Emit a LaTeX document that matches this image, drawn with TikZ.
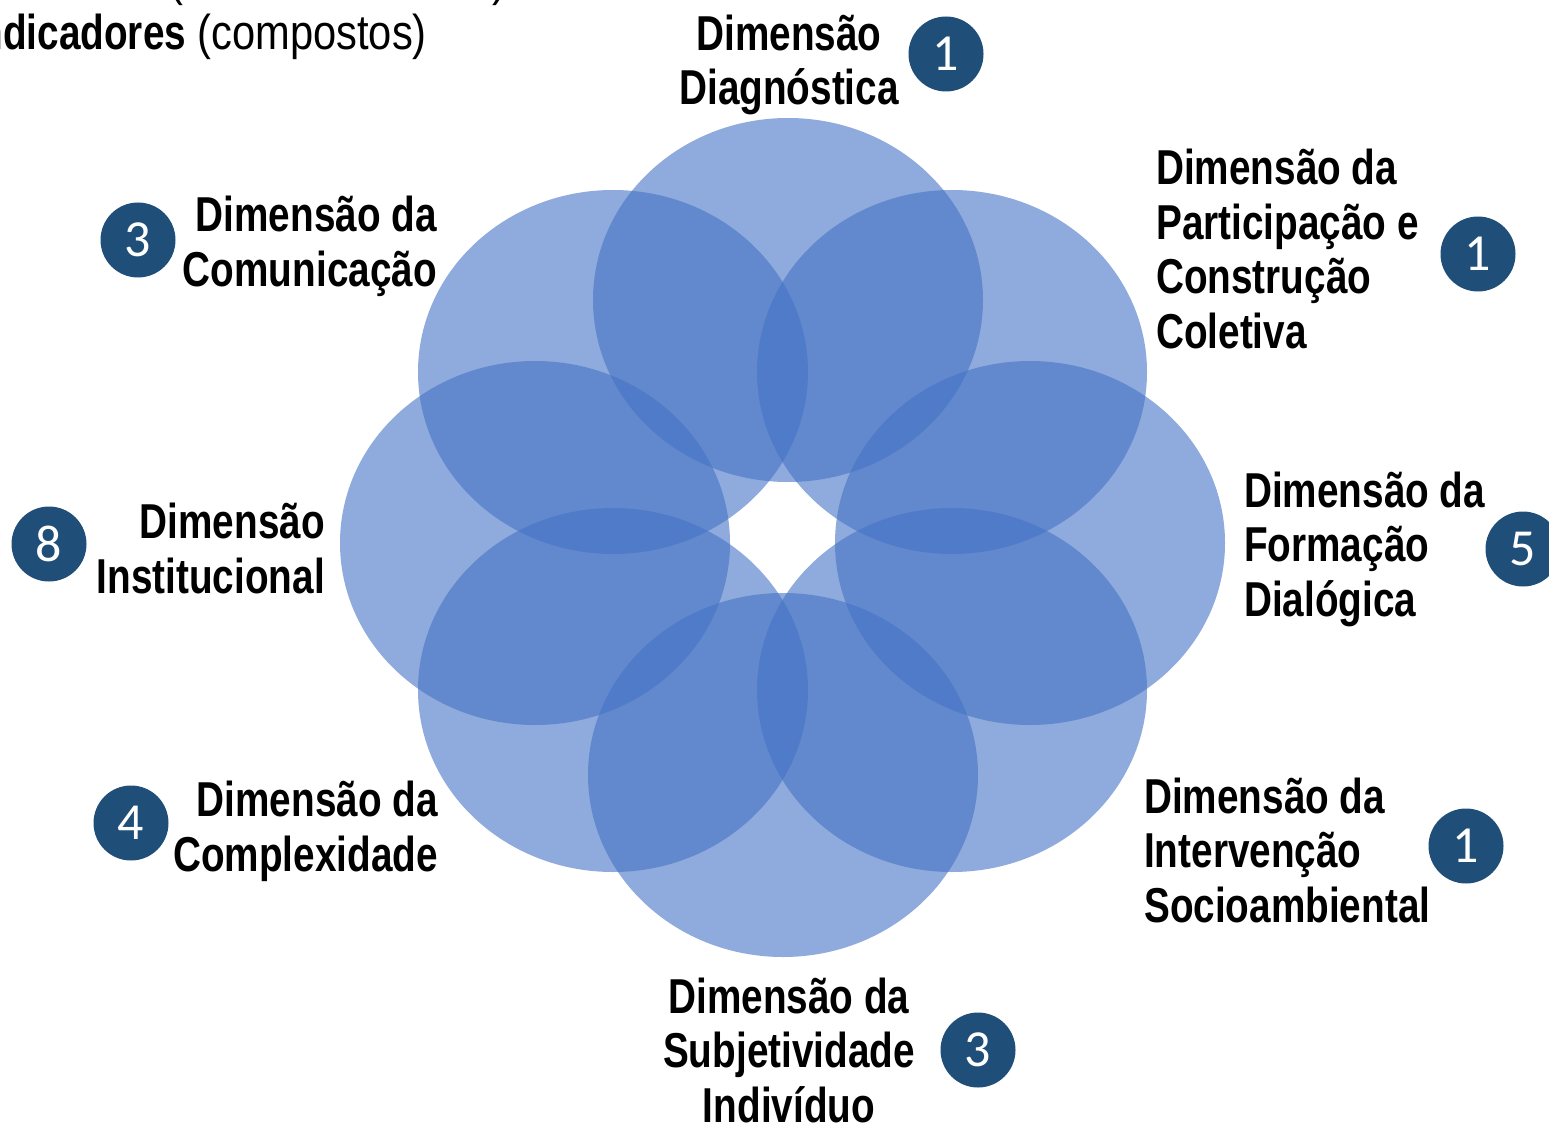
\documentclass[tikz,border=0pt]{standalone}
\usepackage{fontspec}
\setmainfont{Liberation Sans}
\newfontfamily\narrowfont[FakeStretch=0.79]{Liberation Sans}
\newfontfamily\hdrfont[FakeStretch=0.85]{Liberation Sans}
\newfontfamily\numfont{Carlito}
\definecolor{petalblue}{HTML}{4472C4}
\definecolor{badgeblue}{HTML}{1F4E79}
\begin{document}
\begin{tikzpicture}[x=1pt,y=-1pt,
  petal/.style={fill=petalblue,fill opacity=0.6},
  lbl/.style={font=\narrowfont\bfseries\fontsize{49}{54.5}\selectfont,inner sep=0pt},
  hdr/.style={font=\hdrfont\fontsize{49}{54.5}\selectfont,inner sep=0pt},
  badge/.style={circle,fill=badgeblue,text=white,minimum size=75pt,inner sep=0pt,
    font=\numfont\fontsize{52}{52}\selectfont}]
\useasboundingbox (0,0) rectangle (1549,1123);
% petals
\fill[petal] (788,300) ellipse [x radius=195pt, y radius=182pt];
\fill[petal] (952,372) ellipse [x radius=195pt, y radius=182pt];
\fill[petal] (1030,543) ellipse [x radius=195pt, y radius=182pt];
\fill[petal] (952,690) ellipse [x radius=195pt, y radius=182pt];
\fill[petal] (783,775) ellipse [x radius=195pt, y radius=182pt];
\fill[petal] (613,690) ellipse [x radius=195pt, y radius=182pt];
\fill[petal] (535,543) ellipse [x radius=195pt, y radius=182pt];
\fill[petal] (613,372) ellipse [x radius=195pt, y radius=182pt];
% header (cut off at the top edge)
\node[hdr,anchor=base] (p1) at (176,-4) {(};
\node[hdr,anchor=base] (p2) at (499,-4) {)};
\node[hdr,anchor=base east] (hdr) at (427,50) {{\narrowfont\bfseries Indicadores} (compostos)};
% labels (anchor = baseline of last line)
\node[lbl,align=center,anchor=base] (l1) at (789,105) {Dimensão\\Diagnóstica};
\node[lbl,align=left,anchor=base west] (l2) at (1156,348) {Dimensão da\\Participação e\\Construção\\Coletiva};
\node[lbl,align=left,anchor=base west] (l3) at (1244,616) {Dimensão da\\Formação\\Dialógica};
\node[lbl,align=left,anchor=base west] (l4) at (1144,922) {Dimensão da\\Intervenção\\Socioambiental};
\node[lbl,align=center,anchor=base] (l5) at (789,1122) {Dimensão da\\Subjetividade\\Indivíduo};
\node[lbl,align=right,anchor=base east] (l6) at (438,871) {Dimensão da\\Complexidade};
\node[lbl,align=right,anchor=base east] (l7) at (325,593) {Dimensão\\Institucional};
\node[lbl,align=right,anchor=base east] (l8) at (437,286) {Dimensão da\\Comunicação};
% badges
\node[badge] (b1) at (946,54) {1};
\node[badge] (b2) at (1478,254) {1};
\node[badge] (b3) at (1523,549) {5};
\node[badge] (b4) at (1466,846) {1};
\node[badge] (b5) at (978,1050) {3};
\node[badge] (b6) at (131,823) {4};
\node[badge] (b7) at (49,544) {8};
\node[badge] (b8) at (138,240) {3};
\end{tikzpicture}
\end{document}
